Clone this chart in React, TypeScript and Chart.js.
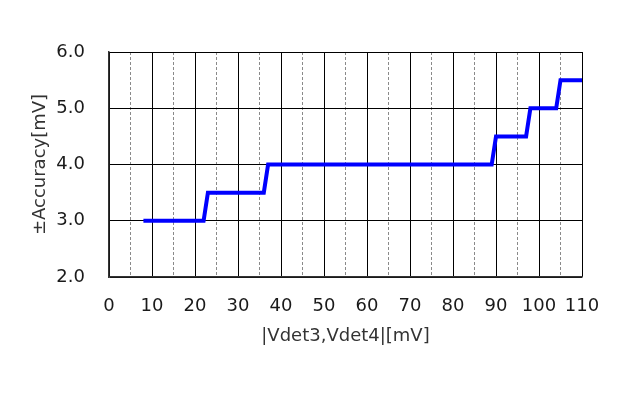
import React, { useEffect, useRef } from "react";
import { Chart, registerables } from "chart.js";

Chart.register(...registerables);

const xValues = [8, 22, 23, 36, 37, 89, 90, 97, 98, 104, 105, 110];
const yValues = [3.0, 3.0, 3.5, 3.5, 4.0, 4.0, 4.5, 4.5, 5.0, 5.0, 5.5, 5.5];
const xTitle = "|Vdet3,Vdet4|[mV]";
const yTitle = "±Accuracy[mV]";
const FONT = "'DejaVu Sans', Verdana, sans-serif";

export default function App() {
  const ref = useRef<HTMLCanvasElement | null>(null);
  useEffect(() => {
    if (!ref.current) return;
    const data = xValues.map((x, i) => ({ x, y: yValues[i] }));
    const chart = new Chart(ref.current, {
      type: "line",
      data: {
        datasets: [
          {
            data,
            borderColor: "#0000ff",
            borderWidth: 4,
            pointRadius: 0,
            tension: 0,
            fill: false,
          },
        ],
      },
      options: {
        responsive: false,
        animation: false,
        layout: { padding: { top: 52, right: 58, left: 0, bottom: 0 } },
        plugins: { legend: { display: false }, tooltip: { enabled: false } },
        scales: {
          x2: {
            type: "linear",
            position: "top",
            min: 0,
            max: 110,
            ticks: { display: false, stepSize: 5 },
            grid: {
              drawTicks: false,
              color: (ctx: any) =>
                ctx.tick && ctx.tick.value % 10 !== 0 ? "#8a8a8a" : "rgba(0,0,0,0)",
              lineWidth: 1,
            },
            border: { display: false, dash: [3, 2] },
            afterFit: (s: any) => {
              s.height = 0;
            },
          },
          x: {
            type: "linear",
            position: "bottom",
            min: 0,
            max: 110,
            ticks: {
              stepSize: 10,
              padding: 19,
              color: "#1a1a1a",
              font: { family: FONT, size: 18 },
              maxRotation: 0,
            },
            grid: { drawTicks: false, color: "#000", lineWidth: 1 },
            border: { display: true, color: "#333", width: 1.5 },
            title: {
              display: true,
              text: xTitle,
              color: "#333",
              font: { family: FONT, size: 18 },
              padding: { top: 0, bottom: 53 },
            },
            afterFit: (s: any) => {
              s.height = 123;
            },
          },
          y: {
            type: "linear",
            min: 2,
            max: 6,
            ticks: {
              stepSize: 1,
              padding: 24,
              color: "#1a1a1a",
              font: { family: FONT, size: 18 },
              callback: (v: any) => Number(v).toFixed(1),
            },
            grid: { drawTicks: false, color: "#000", lineWidth: 1 },
            border: { display: true, color: "#333", width: 1.5 },
            title: {
              display: true,
              text: yTitle,
              color: "#333",
              font: { family: FONT, size: 18 },
              padding: { top: 30, bottom: 0 },
            },
            afterFit: (s: any) => {
              s.width = 109;
            },
          },
        },
      },
    });
    return () => chart.destroy();
  }, []);
  return (
    <div style={{ position: "fixed", left: 0, top: 0, width: 640, height: 400, background: "#fff" }}>
      <canvas ref={ref} width={640} height={400} style={{ display: "block" }} />
    </div>
  );
}
